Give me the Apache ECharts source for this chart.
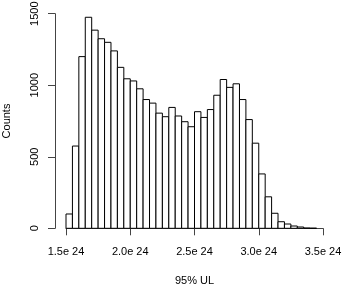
<!DOCTYPE html>
<html>
<head>
<meta charset="utf-8">
<script src="https://cdn.jsdelivr.net/npm/echarts@6/dist/echarts.min.js"></script>
<style>
html,body{margin:0;padding:0;background:#fff;}
#c{width:345px;height:292px;}
</style>
</head>
<body>
<div id="c"></div>
<script>
// Bin left edges (in units of 1e24)
var binLefts = [1.50,1.55,1.60,1.65,1.70,1.75,1.80,1.85,1.90,1.95,
                2.00,2.05,2.10,2.15,2.20,2.25,2.30,2.35,2.40,2.45,
                2.50,2.55,2.60,2.65,2.70,2.75,2.80,2.85,2.90,2.95,
                3.00,3.05,3.10,3.15,3.20,3.25,3.30,3.35,3.40];
var binWidth = 0.05;
var counts = [100,575,1200,1475,1385,1325,1300,1240,1125,1045,
              1030,975,900,875,805,780,845,785,745,710,
              815,775,830,930,1040,985,1010,900,760,595,
              380,220,105,46,30,16,9,2,1];
var xTicks = [1.5,2.0,2.5,3.0,3.5];
var yTicks = [0,500,1000,1500];
var xLabel = '95% UL';
var yLabel = 'Counts';

var data = binLefts.map(function(b,i){ return [b, b+binWidth, counts[i]]; });

var chart = echarts.init(document.getElementById('c'), null, {renderer:'canvas'});
var font = 'Liberation Sans, Arial, Helvetica, sans-serif';
chart.setOption({
  animation:false,
  backgroundColor:'#fff',
  grid:{left:66, right:22, top:13.7, bottom:63.7, containLabel:false, outerBoundsMode:'none'},
  xAxis:{
    type:'value', min:xTicks[0], max:xTicks[xTicks.length-1], interval:0.5,
    offset:7,
    name:xLabel, nameLocation:'middle', nameGap:40,
    nameTextStyle:{color:'#000', fontFamily:font, fontSize:11},
    axisLine:{show:true, lineStyle:{color:'#444', width:1}},
    axisTick:{show:true, inside:false, length:7, lineStyle:{color:'#444'}},
    axisLabel:{color:'#000', fontFamily:font, fontSize:11, margin:11,
      formatter:function(v){ return v.toFixed(1)+'e 24'; }},
    splitLine:{show:false}
  },
  yAxis:{
    type:'value', min:yTicks[0], max:yTicks[yTicks.length-1], interval:500,
    offset:11,
    name:yLabel, nameLocation:'middle', nameGap:43, nameRotate:90,
    nameTextStyle:{color:'#000', fontFamily:font, fontSize:11},
    axisLine:{show:true, lineStyle:{color:'#444', width:1}},
    axisTick:{show:true, inside:false, length:7, lineStyle:{color:'#444'}},
    axisLabel:{color:'#000', fontFamily:font, fontSize:11, margin:15, rotate:90,
      formatter:function(v){ return String(v); }},
    splitLine:{show:false}
  },
  series:[{
    type:'custom',
    data:data,
    encode:{x:[0,1], y:2},
    renderItem:function(params, api){
      var p0 = api.coord([api.value(0), api.value(2)]);
      var p1 = api.coord([api.value(1), 0]);
      return {
        type:'rect',
        shape:{x:p0[0], y:p0[1], width:p1[0]-p0[0], height:p1[1]-p0[1]},
        style:{fill:'#fff', stroke:'#000', lineWidth:1}
      };
    }
  }]
});
</script>
</body>
</html>
